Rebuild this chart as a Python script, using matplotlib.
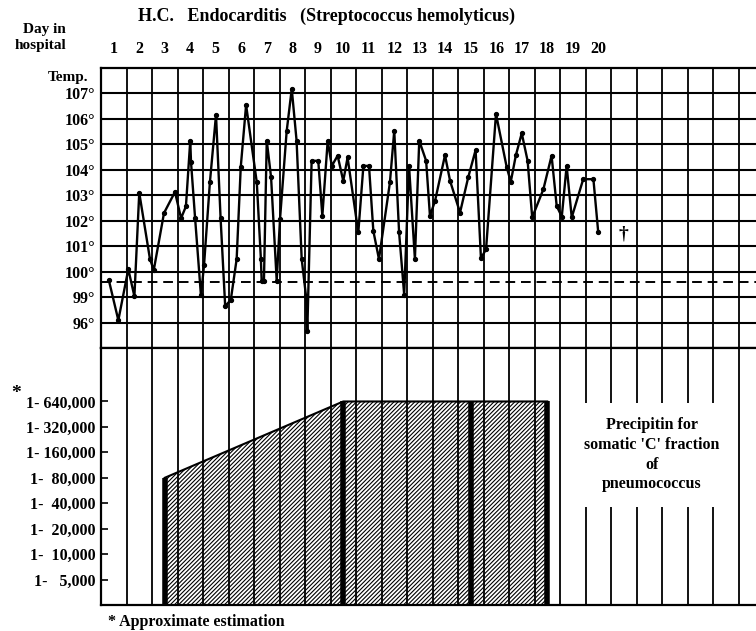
import numpy as np
import matplotlib
matplotlib.use("Agg")
import matplotlib.pyplot as plt
from matplotlib.patches import Rectangle

plt.rcParams['font.family'] = ['Liberation Serif', 'DejaVu Serif']
plt.rcParams['font.weight'] = 'bold'
plt.rcParams['hatch.linewidth'] = 0.8

# temperature readings (day position, deg F)
temp_day = [0.81, 1.18, 1.57, 1.81, 2.0, 2.42, 2.57, 2.97, 3.4, 3.64, 3.83, 4.0, 4.03,
            4.19, 4.42, 4.54, 4.77, 5.01, 5.19, 5.37, 5.59, 5.82, 5.98, 6.19, 6.61,
            6.77, 6.8, 6.89, 7.0, 7.17, 7.39, 7.52, 7.78, 7.98, 8.17, 8.37, 8.54,
            8.59, 8.76, 9.02, 9.18, 9.39, 9.55, 9.78, 10.0, 10.17, 10.59, 10.79,
            11.01, 11.18, 11.4, 11.83, 12.0, 12.19, 12.39, 12.58, 12.81, 12.98,
            13.25, 13.4, 13.6, 13.99, 14.19, 14.58, 14.9, 15.19, 15.4, 15.6, 15.99,
            16.41, 16.57, 16.77, 17.0, 17.23, 17.41, 17.85, 18.17, 18.37, 18.57,
            18.76, 18.96, 19.41, 19.81, 20.0]
temp_f = [99.66, 98.1, 100.1, 99.04, 103.1, 100.5, 100.07, 102.3, 103.13, 102.1, 102.56,
          105.14, 104.3, 102.1, 99.07, 100.25, 103.5, 106.15, 102.1, 98.65, 98.9, 100.5,
          104.1, 106.54, 103.5, 100.5, 99.65, 99.65, 105.14, 103.7, 99.65, 102.06,
          105.5, 107.17, 105.14, 100.5, 99.04, 97.67, 104.35, 104.35, 102.19, 105.14,
          104.15, 104.55, 103.56, 104.48, 101.54, 104.15, 104.15, 101.6, 100.5, 103.5,
          105.53, 101.54, 99.1, 104.15, 100.5, 105.14, 104.35, 102.19, 102.78, 104.57,
          103.56, 102.32, 103.7, 104.77, 100.53, 100.88, 106.19, 104.1, 103.53, 104.57,
          105.43, 104.35, 102.13, 103.24, 104.55, 102.58, 102.16, 104.15, 102.13,
          103.63, 103.63, 101.54]

temp_ticks = [107, 106, 105, 104, 103, 102, 101, 100, 99, 98]
temp_labels = ['107°', '106°', '105°', '104°', '103°', '102°', '101°', '100°', '99°', '96°']
days = list(range(1, 21))

# precipitin titer
titer_day = [3, 10, 15, 18]
titer_val = [80000, 640000, 640000, 640000]
titer_ticks = [5000, 10000, 20000, 40000, 80000, 160000, 320000, 640000]
titer_labels = ['1-   5,000', '1-  10,000', '1-  20,000', '1-  40,000',
                '1-  80,000', '1- 160,000', '1- 320,000', '1- 640,000']

W, H = 756, 631
fig = plt.figure(figsize=(W / 100, H / 100), dpi=100)

def fx(x):
    return x / W

def fy(y):
    return 1 - y / H

left = fx(101)
x_right = 0.5 + (W - 101) / 25.5
ax1 = fig.add_axes([left, fy(348.3), 1 - left, (348.3 - 67.7) / H])
ax2 = fig.add_axes([left, fy(605), 1 - left, (605 - 348.3) / H])

bounds = np.arange(0.5, 26.0, 1.0)

# temperature panel
ax1.set_xlim(0.5, x_right)
ax1.set_ylim(97, 108)
for b in bounds:
    ax1.axvline(b, color='black', lw=1.3, zorder=1)
for t in range(98, 108):
    ax1.axhline(t, color='black', lw=1.5, zorder=1)
ax1.axhline(99.6, color='black', lw=1.4, ls=(0, (5, 3)), zorder=1)
ax1.plot(temp_day, temp_f, color='black', lw=1.7, marker='o', ms=2.8, zorder=3)
ax1.text(21, 101.5, '†', fontsize=14, ha='center', va='center')
ax1.xaxis.tick_top()
ax1.set_xticks(days)
ax1.set_xticklabels([str(d) for d in days], fontsize=11.5)
ax1.tick_params(axis='x', length=0, pad=8)
ax1.set_yticks(temp_ticks)
ax1.set_yticklabels(temp_labels, fontsize=11.5)
ax1.tick_params(axis='y', length=0, pad=4)
for s in ax1.spines.values():
    s.set_linewidth(1.6)
ax1.spines['right'].set_visible(False)

# precipitin panel
ax2.set_yscale('log', base=2)
ybot = 2500
ytop = 5000 * 2 ** 9.09
ax2.set_xlim(0.5, x_right)
ax2.set_ylim(ybot, ytop)
for b in bounds:
    ax2.axvline(b, color='black', lw=1.3, zorder=1)
ax2.add_patch(Rectangle((18.6, 5000 * 2 ** 2.85), 6.8, 5000 * 2 ** 6.95 - 5000 * 2 ** 2.85,
                        facecolor='white', edgecolor='none', zorder=2))
ax2.fill_between(titer_day, titer_val, ybot, facecolor='none', edgecolor='black',
                 hatch='////////', lw=0, zorder=3)
ax2.plot(titer_day, titer_val, color='black', lw=1.5, zorder=4)
ax2.vlines(titer_day, ybot, titer_val, color='black', lw=4, zorder=4)
ax2.text(22.1, 5000 * 2 ** 4.9,
         "Precipitin for\nsomatic 'C' fraction\nof\npneumococcus",
         ha='center', va='center', fontsize=11.5, linespacing=1.3, zorder=5)
ax2.set_xticks([])
ax2.set_yticks(titer_ticks)
ax2.set_yticklabels(titer_labels, fontsize=11.5)
ax2.minorticks_off()
ax2.tick_params(axis='y', direction='in', length=5, width=1.2, pad=4)
for s in ax2.spines.values():
    s.set_linewidth(1.6)
ax2.spines['right'].set_visible(False)

# loose text
fig.text(fx(326), fy(16), 'H.C.   Endocarditis   (Streptococcus hemolyticus)',
         ha='center', va='center', fontsize=13)
fig.text(fx(66), fy(30), 'Day in', ha='right', va='center', fontsize=11)
fig.text(fx(66), fy(46), 'hospital', ha='right', va='center', fontsize=11)
fig.text(fx(88), fy(77), 'Temp.', ha='right', va='center', fontsize=11)
fig.text(fx(16), fy(394), '*', ha='center', va='center', fontsize=14)
fig.text(fx(108), fy(622), '* Approximate estimation', ha='left', va='center', fontsize=11.5)

fig.savefig('out.png', dpi=100)
